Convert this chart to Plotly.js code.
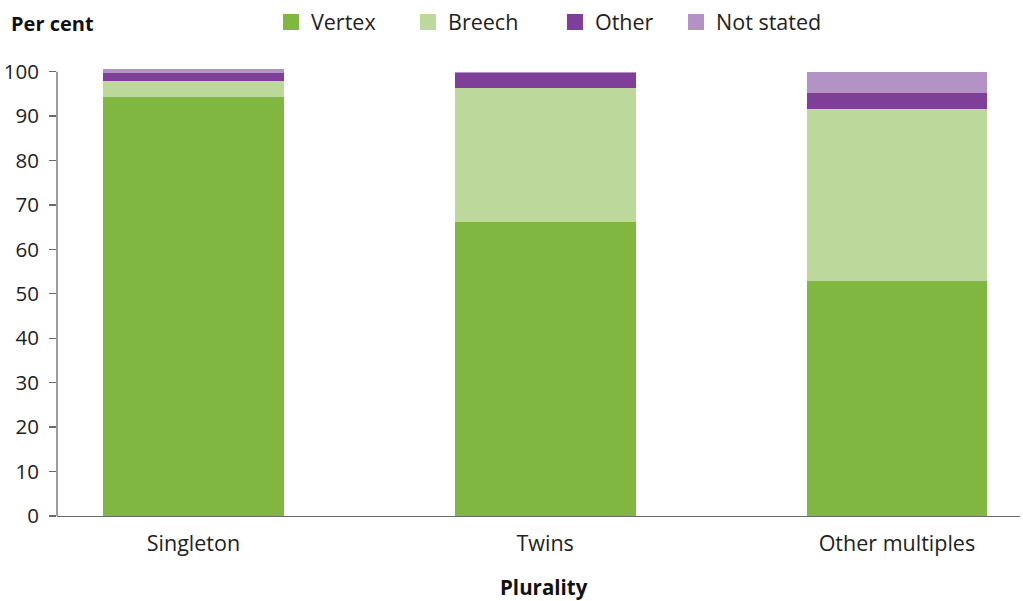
<!DOCTYPE html>
<html>
<head>
<meta charset="utf-8">
<script src="https://cdn.plot.ly/plotly-3.0.1.min.js"></script>
<style>html,body{margin:0;padding:0;background:#fff;}#chart{width:1023px;height:601px;}</style>
</head>
<body>
<div id="chart"></div>
<script>
const categories = ["Singleton", "Twins", "Other multiples"];
const vertex = [94.4, 66.1, 53.0];
const breech = [3.6, 30.2, 38.5];
const other = [1.8, 3.4, 3.6];
const notStated = [0.7, 0.3, 4.9];
const seriesNames = ["Vertex", "Breech", "Other", "Not stated"];
const yTicks = [0, 10, 20, 30, 40, 50, 60, 70, 80, 90, 100];

const colors = ["#80b741", "#bdd89b", "#7f3f98", "#b392c6"];
const series = [vertex, breech, other, notStated];
const font = "'Open Sans', 'Noto Sans', sans-serif";
const legendIds = ["legend", "legend2", "legend3", "legend4"];
const legendX = [0.2222, 0.3645, 0.5171, 0.6428];
const axisColor = "#6a6a6a";

const barTraces = series.map((vals, i) => ({
  type: "bar",
  x: categories,
  y: vals,
  name: seriesNames[i],
  marker: {color: colors[i], line: {width: 0}},
  showlegend: false,
  hoverinfo: "skip"
}));

// legend-only entries (larger square swatches)
const legendTraces = seriesNames.map((n, i) => ({
  type: "scatter", mode: "markers",
  x: [null], y: [null],
  name: n,
  legend: legendIds[i],
  marker: {symbol: "square", size: 16, color: colors[i]},
  showlegend: true,
  hoverinfo: "skip"
}));

const legendBase = (i) => ({
  orientation: "h", x: legendX[i], xanchor: "left", y: 1.093, yanchor: "middle",
  font: {family: font, size: 21.5, color: "#222"},
  bgcolor: "rgba(0,0,0,0)", borderwidth: 0,
  itemclick: false, itemdoubleclick: false
});

const layout = {
  width: 1023, height: 601,
  margin: {l: 57, r: 3, t: 64, b: 85, pad: 0},
  paper_bgcolor: "#fff", plot_bgcolor: "#fff",
  barmode: "stack",
  bargap: 0.486,
  font: {family: font, size: 20, color: "#222"},
  showlegend: true,
  legend: legendBase(0),
  legend2: legendBase(1),
  legend3: legendBase(2),
  legend4: legendBase(3),
  xaxis: {
    range: [-0.388, 2.35],
    showline: true, linecolor: axisColor, linewidth: 1.3,
    ticks: "", showgrid: false, zeroline: false,
    tickfont: {family: font, size: 21.5, color: "#222"},
    ticklabelstandoff: 8,
    fixedrange: true
  },
  yaxis: {
    range: [0, 101.5],
    tickvals: yTicks,
    ticktext: yTicks.map(String),
    showline: false,
    ticks: "outside", ticklen: 7, tickcolor: axisColor, tickwidth: 1.3,
    showgrid: false, zeroline: false,
    tickfont: {family: font, size: 20.5, color: "#222"},
    ticklabelstandoff: 6,
    fixedrange: true
  },
  shapes: [
    {type: "line", xref: "paper", yref: "y", x0: 0, x1: 0, y0: 0, y1: 100,
     line: {color: axisColor, width: 1.3}, layer: "above"}
  ],
  annotations: [
    {text: "<b>Per cent</b>", xref: "paper", yref: "paper", x: -0.05, y: 1.093,
     xanchor: "left", yanchor: "middle", showarrow: false,
     font: {family: font, size: 20, color: "#111"}},
    {text: "<b>Plurality</b>", xref: "paper", yref: "paper", x: 0.506, y: -0.157,
     xanchor: "center", yanchor: "middle", showarrow: false,
     font: {family: font, size: 20.5, color: "#111"}}
  ]
};

Plotly.newPlot("chart", barTraces.concat(legendTraces), layout, {displayModeBar: false, staticPlot: true});
</script>
</body>
</html>
